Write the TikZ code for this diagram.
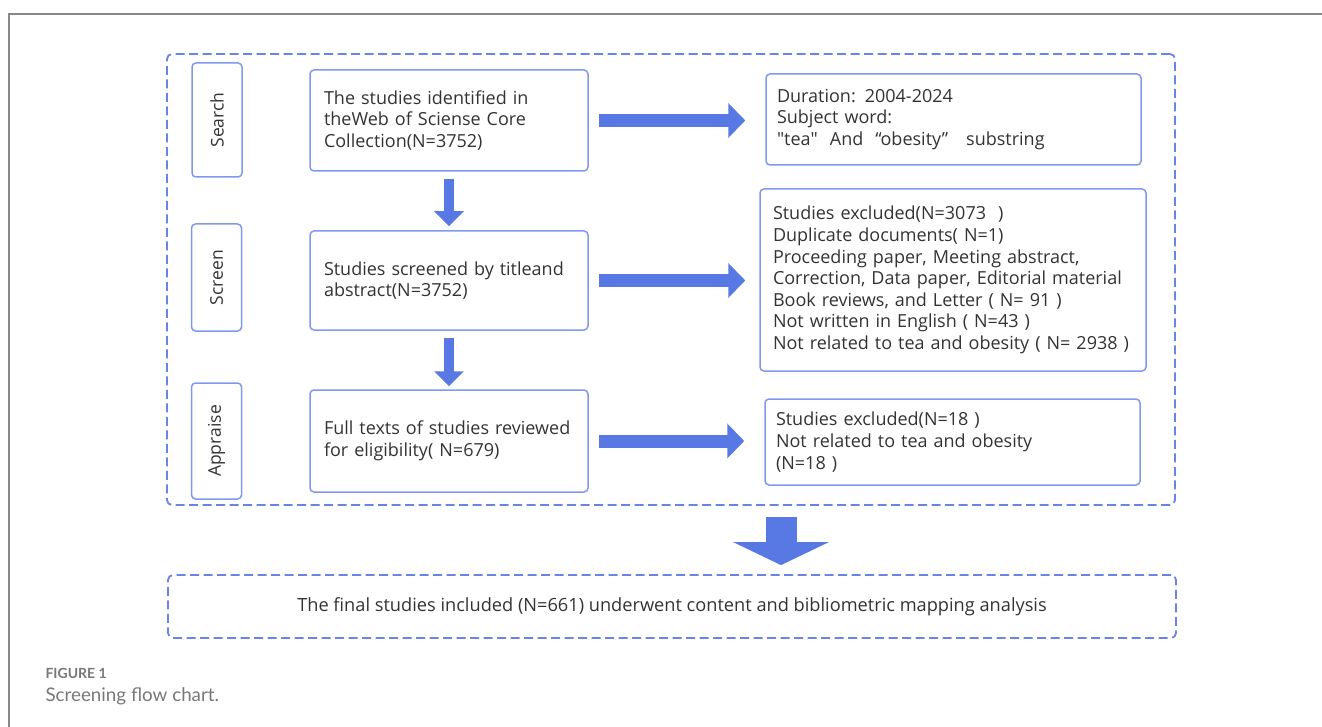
\documentclass[tikz,border=0pt]{standalone}
\usepackage{graphicx,xcolor}
\usepackage{fontspec}
\setmainfont{Open Sans}
\newfontfamily\capfont{Lato}
\usetikzlibrary{arrows.meta}
\definecolor{boxblue}{RGB}{128,153,238}
\definecolor{arrowblue}{RGB}{88,121,228}
\definecolor{dashblue}{RGB}{104,132,232}
\definecolor{textgrey}{RGB}{51,51,51}
\definecolor{framegrey}{RGB}{136,136,136}
\definecolor{capgrey}{RGB}{120,120,120}

\begin{document}
\begin{tikzpicture}[x=1pt,y=-1pt,
    stage/.style={draw=boxblue,line width=1.5pt,rounded corners=4pt,minimum width=50pt,text=textgrey,font=\fontsize{17.5}{20}\selectfont},
    study/.style={draw=boxblue,line width=1.5pt,rounded corners=4pt,align=left,text=textgrey,font=\fontsize{18}{21.6}\selectfont},
    dashbox/.style={draw=dashblue,line width=1.8pt,dash pattern=on 9pt off 4.5pt,rounded corners=5pt},
    harrow/.style={arrowblue,line width=13pt,-{Triangle[length=17pt,width=34pt]}},
    varrow/.style={arrowblue,line width=10pt,-{Triangle[length=15pt,width=29pt]}},
    bigarrow/.style={arrowblue,line width=31pt,-{Triangle[length=23pt,width=95pt]}}]
    \useasboundingbox (0,0) rectangle (1322,727);
    \draw[framegrey,line width=1.5pt] (1322,14) -- (9,14) -- (9,727);
    \node[dashbox,minimum width=1008pt,minimum height=451pt] (scope) at (671,279.5) {};
    \node[dashbox,minimum width=1008pt,minimum height=63pt,text=textgrey,font=\fontsize{18.2}{20}\selectfont] (final) at (672,606.5) {The final studies included (N=661) underwent content and bibliometric mapping analysis};
    \node[stage,minimum height=114pt] (search) at (217,120) {\rotatebox{90}{Search}};
    \node[stage,minimum height=107pt] (screen) at (216.5,277.5) {\rotatebox{90}{Screen}};
    \node[stage,minimum height=116pt] (appraise) at (216.5,441) {\rotatebox{90}{Appraise}};
    \node[study,text width=250pt,inner xsep=14pt,minimum height=101pt] (found) at (449,120.5) {The studies identified in\\theWeb of Sciense Core\\Collection(N=3752)};
    \node[study,text width=250pt,inner xsep=14pt,minimum height=99pt] (screened) at (449,280.5) {Studies screened by titleand\\abstract(N=3752)};
    \node[study,text width=250pt,inner xsep=14pt,minimum height=102pt] (fulltext) at (449,441) {Full texts of studies reviewed\\for eligibility( N=679)};
    \node[study,text width=353pt,inner xsep=11pt,minimum height=91pt] (terms) at (953.5,119.5) {Duration: 2004-2024\\Subject word:\\\textquotedbl tea\textquotedbl~ And ~“obesity”~~ substring};
    \node[study,text width=360pt,inner xsep=13pt,minimum height=182pt] (excl1) at (953,280) {Studies excluded(N=3073~~)\\Duplicate documents( N=1)\\Proceeding paper, Meeting abstract,\\Correction, Data paper, Editorial material\\Book reviews, and Letter ( N= 91 )\\Not written in English ( N=43 )\\Not related to tea and obesity ( N= 2938 )};
    \node[study,text width=353pt,inner xsep=11pt,minimum height=86pt] (excl2) at (952.5,442) {Studies excluded(N=18 )\\Not related to tea and obesity\\(N=18 )};
    \draw[harrow,shorten <=10pt,shorten >=20pt] (found.east) -- (found.east -| terms.west);
    \draw[harrow,shorten <=10pt,shorten >=14pt] (screened.east) -- (screened.east -| excl1.west);
    \draw[harrow,shorten <=10pt,shorten >=20pt] (fulltext.east) -- (fulltext.east -| excl2.west);
    \draw[varrow,shorten <=7pt,shorten >=4pt] (found.south) -- (screened.north);
    \draw[varrow,shorten <=7pt,shorten >=3pt] (screened.south) -- (fulltext.north);
    \draw[bigarrow,shorten <=11pt,shorten >=9pt] ([xshift=110pt]scope.south) -- ([xshift=109pt]final.north);
    \node[anchor=west,text=capgrey,font=\capfont\bfseries\fontsize{14}{14}\selectfont] (fignum) at (42,673) {FIGURE 1};
    \node[anchor=west,text=capgrey,font=\capfont\fontsize{18.8}{18.8}\selectfont] (caption) at (42,696) {Screening flow chart.};
\end{tikzpicture}
\end{document}
